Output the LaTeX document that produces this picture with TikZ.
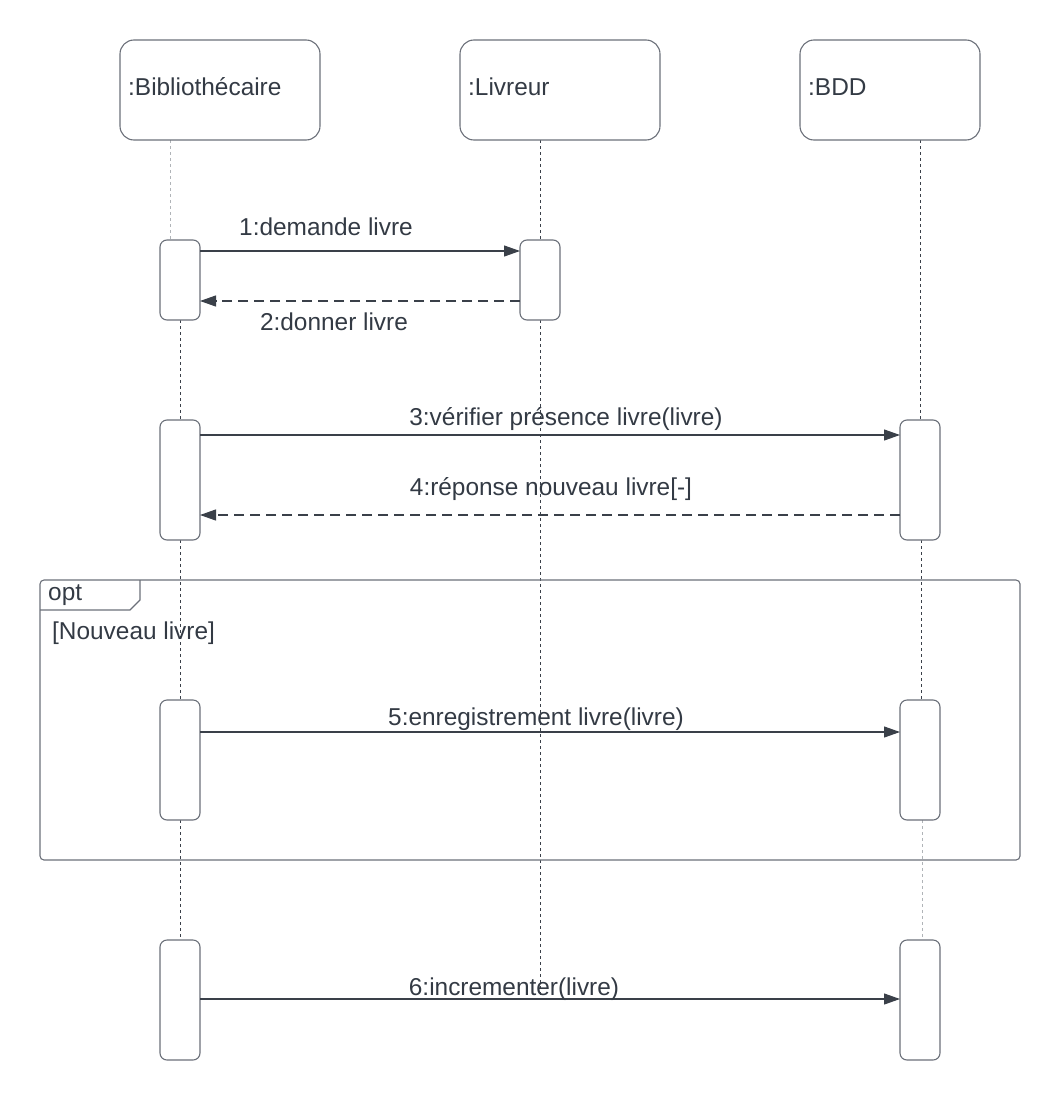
\documentclass[tikz,border=0pt]{standalone}
\usepackage{fontspec}
\setmainfont{Liberation Sans}
\usetikzlibrary{arrows.meta}
\definecolor{txt}{HTML}{333A44}
\definecolor{brd}{HTML}{6B7079}
\definecolor{ln}{HTML}{3A4049}
\definecolor{lgrey}{HTML}{B0B4B8}
\tikzset{
  x=1pt,y=-1pt,
  head/.style={draw=brd,line width=1.1pt,rounded corners=14pt,minimum width=#1,minimum height=100pt,inner sep=0pt},
  act/.style={draw=brd,line width=1.1pt,fill=white,rounded corners=7pt,minimum width=40pt,minimum height=#1,inner sep=0pt},
  lifeline/.style={draw=ln,line width=0.8pt,dash pattern=on 3pt off 3pt},
  lifelinel/.style={draw=lgrey,line width=1pt,dash pattern=on 3pt off 3pt},
  msg/.style={draw=ln,line width=1.1pt,-{Triangle[length=16pt,width=11pt]}},
  ret/.style={draw=ln,line width=1.1pt,dash pattern=on 10pt off 6pt,-{Triangle[length=16pt,width=11pt]}},
  lbl/.style={text=txt,font=\fontsize{24.4}{28}\selectfont,inner sep=0pt,anchor=base},
}
\begin{document}
\begin{tikzpicture}
\useasboundingbox (0,0) rectangle (1060,1100);
% lifelines
\draw[lifelinel] (170,140) -- (170,250);
\draw[lifeline] (180,320) -- (180,420);
\draw[lifeline] (180,540) -- (180,700);
\draw[lifeline] (180,820) -- (180,940);
\draw[lifeline] (540,140) -- (540,240);
\draw[lifeline] (540,320) -- (540,1000);
\draw[lifeline] (920,140) -- (920,420);
\draw[lifeline] (921,540) -- (921,700);
\draw[lifelinel] (922,820) -- (922,940);
% headers
\node[head=200pt] (h1) at (220,90) {};
\node[lbl,anchor=base west] at (128,95) {:Bibliothécaire};
\node[head=200pt] (h2) at (560,90) {};
\node[lbl,anchor=base west] at (468,95) {:Livreur};
\node[head=180pt] (h3) at (890,90) {};
\node[lbl,anchor=base west] at (808,95) {:BDD};
% opt frame
\draw[draw=brd,line width=1.1pt,rounded corners=4pt] (40,580) rectangle (1020,860);
\draw[draw=brd,line width=1.1pt] (40,610) -- (130,610) -- (140,600) -- (140,580);
\node[lbl,anchor=base west] at (48,600) {opt};
\node[lbl,anchor=base west] at (52,639) {[Nouveau livre]};
% activations
\node[act=80pt] (a1) at (180,280) {};
\node[act=80pt] (b1) at (540,280) {};
\node[act=120pt] (a2) at (180,480) {};
\node[act=120pt] (c2) at (920,480) {};
\node[act=120pt] (a3) at (180,760) {};
\node[act=120pt] (c3) at (920,760) {};
\node[act=120pt] (a4) at (180,1000) {};
\node[act=120pt] (c4) at (920,1000) {};
% messages
\coordinate (m1s) at (200,251); \coordinate (m1e) at (520,251);
\draw[msg] (m1s) -- (m1e);
\node[lbl] at (326,235) {1:demande livre};
\coordinate (m2s) at (520,301); \coordinate (m2e) at (200,301);
\draw[ret] (m2s) -- (m2e);
\node[lbl] at (334,330) {2:donner livre};
\coordinate (m3s) at (200,435); \coordinate (m3e) at (900,435);
\draw[msg] (m3s) -- (m3e);
\node[lbl] at (566,425) {3:vérifier présence livre(livre)};
\coordinate (m4s) at (900,515); \coordinate (m4e) at (200,515);
\draw[ret] (m4s) -- (m4e);
\node[lbl] at (551,495) {4:réponse nouveau livre[-]};
\coordinate (m5s) at (200,732); \coordinate (m5e) at (900,732);
\draw[msg] (m5s) -- (m5e);
\node[lbl] at (536,725) {5:enregistrement livre(livre)};
\coordinate (m6s) at (200,999); \coordinate (m6e) at (900,999);
\draw[msg] (m6s) -- (m6e);
\node[lbl] at (514,995) {6:incrementer(livre)};
\end{tikzpicture}
\end{document}
